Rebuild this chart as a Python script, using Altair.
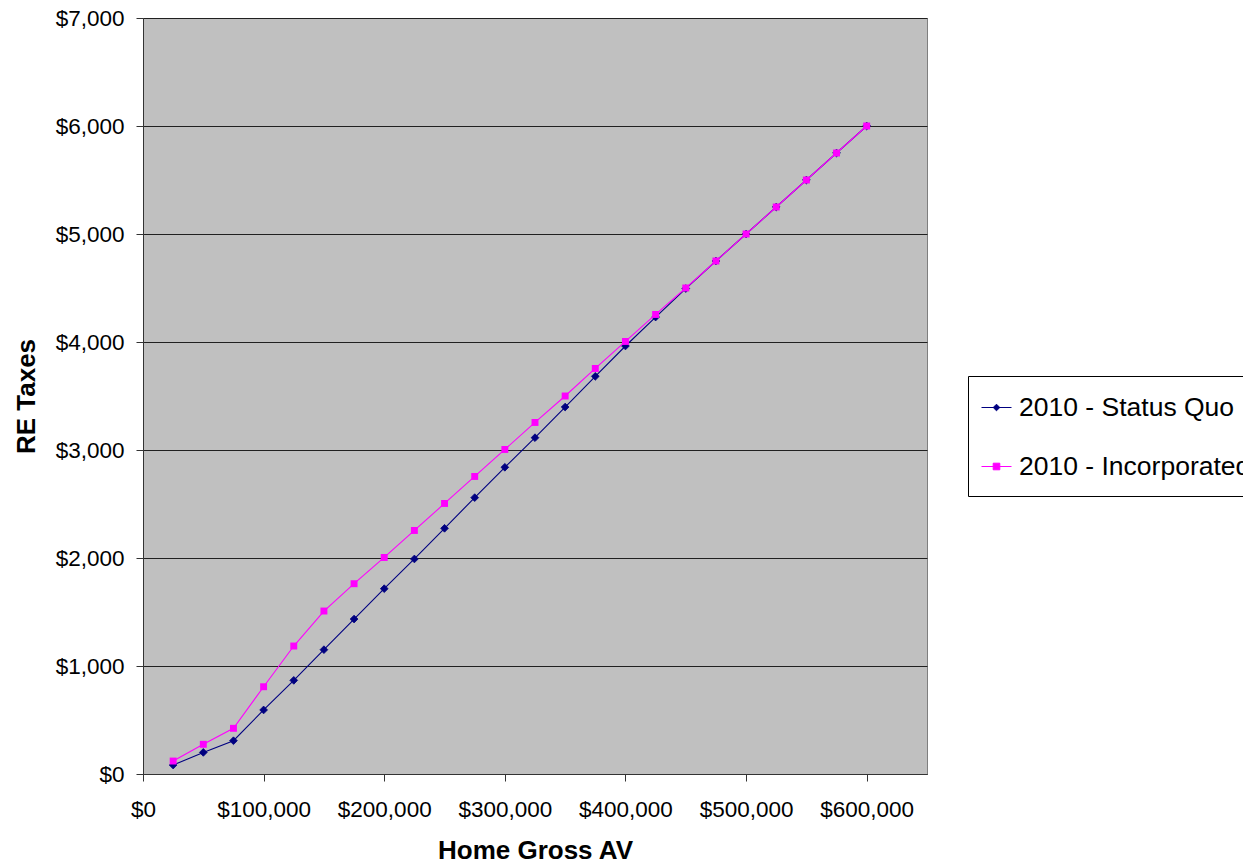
import altair as alt
import pandas as pd

home_av = [25000, 50000, 75000, 100000, 125000, 150000, 175000, 200000,
           225000, 250000, 275000, 300000, 325000, 350000, 375000, 400000,
           425000, 450000, 475000, 500000, 525000, 550000, 575000, 600000]
status_quo = [83, 200, 308, 593, 867, 1151, 1435, 1716,
              1991, 2275, 2559, 2840, 3114, 3398, 3682, 3963,
              4231, 4495, 4750, 5000, 5250, 5500, 5750, 6000]
incorporated = [120, 275, 423, 808, 1185, 1509, 1762, 2005,
                2255, 2505, 2755, 3005, 3255, 3500, 3755, 4005,
                4255, 4500, 4750, 5000, 5250, 5500, 5750, 6000]
series_names = ["2010 - Status Quo", "2010 - Incorporated"]
series_colors = ["#000080", "#FF00FF"]
y_ticks = [0, 1000, 2000, 3000, 4000, 5000, 6000, 7000]
x_ticks = [0, 100000, 200000, 300000, 400000, 500000, 600000]

rows = []
for name, vals in zip(series_names, [status_quo, incorporated]):
    for xv, yv in zip(home_av, vals):
        rows.append({"av": xv, "tax": yv, "series": name})
df = pd.DataFrame(rows)

FONT = "Liberation Sans"

x_enc = alt.X("av:Q", scale=alt.Scale(domain=[0, 650000], nice=False),
              axis=alt.Axis(values=x_ticks, format="$,.0f", title="Home Gross AV",
                            grid=False, tickSize=7, labelPadding=17,
                            titlePadding=17, labelFlush=False))
y_enc = alt.Y("tax:Q", scale=alt.Scale(domain=[0, 7000], nice=False),
              axis=alt.Axis(values=y_ticks, format="$,.0f", title="RE Taxes",
                            grid=True, tickSize=7, labelPadding=12,
                            titlePadding=16))

navy_lines = alt.Chart(df).transform_filter(
    alt.datum.series == series_names[0]
).mark_line(strokeWidth=1.1, color=series_colors[0]).encode(x=x_enc, y=y_enc)

navy_pts = alt.Chart(df).transform_filter(
    alt.datum.series == series_names[0]
).mark_point(shape="diamond", filled=True, size=60, opacity=1,
             color=series_colors[0], stroke=series_colors[0], strokeWidth=0.8).encode(
    x="av:Q", y="tax:Q")

mag_lines = alt.Chart(df).transform_filter(
    alt.datum.series == series_names[1]
).mark_line(strokeWidth=1.1, color=series_colors[1]).encode(x="av:Q", y="tax:Q")

mag_pts = alt.Chart(df).transform_filter(
    alt.datum.series == series_names[1]
).mark_point(shape="square", filled=True, size=48, opacity=1,
             color=series_colors[1]).encode(x="av:Q", y="tax:Q")

legend_shapes = ["M-1,0H1M0,-0.22L0.22,0L0,0.22L-0.22,0Z",
                 "M-1,0H1M-0.22,-0.22H0.22V0.22H-0.22Z"]


def make_legend():
    return alt.Legend(
        title=None, orient="none", legendX=825, legendY=358,
        labelFont=FONT, labelFontSize=26.5, labelColor="black", labelLimit=400,
        symbolSize=900, symbolStrokeWidth=1, symbolOpacity=1,
        strokeColor="black", fillColor="white", padding=16,
        rowPadding=30, labelOffset=7, symbolOffset=-3,
    )


legend_layer = alt.Chart(df).mark_point(filled=True, opacity=0, strokeWidth=1).encode(
    x="av:Q", y="tax:Q",
    fill=alt.Fill("series:N", scale=alt.Scale(domain=series_names, range=series_colors),
                  legend=make_legend()),
    stroke=alt.Stroke("series:N", scale=alt.Scale(domain=series_names, range=series_colors),
                      legend=make_legend()),
    shape=alt.Shape("series:N", scale=alt.Scale(domain=series_names, range=legend_shapes),
                    legend=make_legend()),
)

chart = alt.layer(navy_lines, navy_pts, mag_lines, mag_pts, legend_layer).properties(
    width=784, height=756,
    autosize=alt.AutoSizeParams(type="none"),
    padding={"left": 143, "top": 18, "right": 316, "bottom": 90},
    background="white",
).configure_view(
    fill="#C0C0C0", stroke="#7f7f7f", strokeWidth=1
).configure_axis(
    labelFont=FONT, labelFontSize=22.5, labelColor="black",
    titleFont=FONT, titleFontSize=26, titleFontWeight="bold", titleColor="black",
    domainColor="#333333", tickColor="#333333", gridColor="#202020",
    gridOpacity=1, domainWidth=1, tickWidth=1, gridWidth=1,
)

chart.save("out.html", embed_options={"renderer": "svg", "actions": False})
